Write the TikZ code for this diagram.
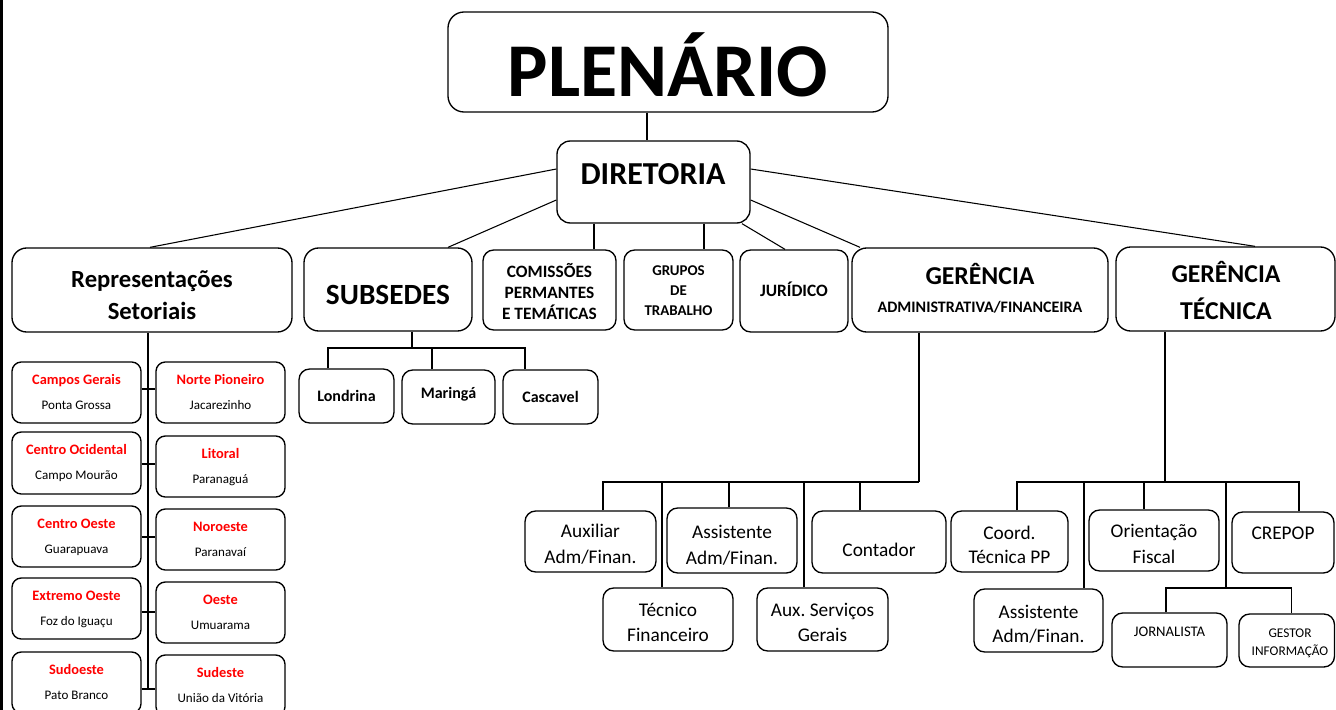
\documentclass[tikz,border=0pt]{standalone}
\usepackage{fontspec}
\setmainfont{Carlito}
\usetikzlibrary{fit,calc}
\frenchspacing
\tikzset{
 box/.style={draw, line width=1pt, rounded corners=8pt, inner sep=0pt},
 bigbox/.style={box, rounded corners=11pt},
 conn/.style={line width=0.8pt},
 t/.style={anchor=base, inner sep=0pt, align=center},
 hx/.style={xshift={(#1)*0.75pt}},
 vy/.style={yshift={-(#1)*0.75pt}},
}
\newcommand\RepBox[7]{%
 \node[box, rounded corners=7pt, fit={(#2,#3) (#4,#5)}] (#1) {};
 \node[t, text=red, font=\fontsize{10.8}{13}\selectfont\bfseries] (#1-r) at ({(#2+#4)/2},{#3+22.5}) {#6};
 \node[t, font=\fontsize{9.8}{12}\selectfont] (#1-b) at ({(#2+#4)/2},{#3+47.5}) {#7};}
\begin{document}
\begin{tikzpicture}[x=0.75pt,y=-0.75pt]
\useasboundingbox (0,0) rectangle (1336,710);
\draw[line width=2.25pt] (1.5,0) -- (1.5,710);
% top
\node[bigbox, rounded corners=12pt, fit={(448,12) (888,112)}] (plen) {};
\node[t,font=\fontsize{57}{60}\selectfont\bfseries] (plen-t) at (668,97) {PLENÁRIO};
\node[box, rounded corners=10pt, fit={(557,141) (750,223)}] (dir) {};
\node[t,font=\fontsize{24}{28}\selectfont\bfseries] (dir-t) at (653,184) {DIRETORIA};
% row 2
\node[bigbox, fit={(12,248) (292,332)}] (rep) {};
\node[t,font=\fontsize{18.5}{24}\selectfont\bfseries] (rep-t) at (152,319) {Representações\\Setoriais};
\node[bigbox, fit={(304,248) (472,331)}] (sub) {};
\node[t,font=\fontsize{22}{26}\selectfont\bfseries] (sub-t) at (388,304) {SUBSEDES};
\node[box, fit={(483,250) (616,330)}] (com) {};
\node[t,font=\fontsize{13}{15.75}\selectfont\bfseries] (com-t) at (549.5,319) {COMISSÕES\\PERMANTES\\E TEMÁTICAS};
\node[box, fit={(624,250) (733,330)}] (gru) {};
\node[t,font=\fontsize{11.2}{15}\selectfont\bfseries] (gru-t) at (678.5,315) {GRUPOS\\DE\\TRABALHO};
\node[box, fit={(740,250) (848,332)}] (jur) {};
\node[t,font=\fontsize{13}{16}\selectfont\bfseries] (jur-t) at (794,296) {JURÍDICO};
\node[bigbox, fit={(852,248) (1108,332)}] (ga) {};
\node[t,font=\fontsize{19.3}{23}\selectfont\bfseries] (ga-t1) at (980,284) {GERÊNCIA};
\node[t,font=\fontsize{12}{14}\selectfont\bfseries] (ga-t2) at (980,312) {ADMINISTRATIVA/FINANCEIRA};
\node[bigbox, fit={(1116,247) (1335,331)}] (gt) {};
\node[t,font=\fontsize{19.3}{27.75}\selectfont\bfseries] (gt-t) at (1226,319) {GERÊNCIA\\TÉCNICA};
% top connectors
\draw[conn] ([hx=-21]plen.south) -- ([hx=-6.5]dir.north);
\draw[conn] ([vy=-13]dir.west) -- ([hx=-2]rep.north);
\draw[conn] ([vy=18]dir.west) -- ([hx=60]sub.north);
\draw[conn] ([hx=-59.5]dir.south) -- ([hx=44.5]com.north);
\draw[conn] ([hx=50.5]dir.south) -- ([hx=25.5]gru.north);
\draw[conn] ([hx=88.5]dir.south) -- ([hx=-9]jur.north);
\draw[conn] ([vy=18]dir.east) -- ([hx=-120]ga.north);
\draw[conn] ([vy=-13]dir.east) -- ([hx=29.5]gt.north);
% representacoes
\RepBox{cg}{12}{362}{141}{423}{Campos Gerais}{Ponta Grossa}
\RepBox{np}{156}{362}{285}{423}{Norte Pioneiro}{Jacarezinho}
\RepBox{co}{12}{432}{141}{494}{Centro Ocidental}{Campo Mourão}
\RepBox{lit}{156}{436}{285}{497}{Litoral}{Paranaguá}
\RepBox{coe}{12}{506}{141}{567}{Centro Oeste}{Guarapuava}
\RepBox{nor}{156}{509}{285}{570}{Noroeste}{Paranavaí}
\RepBox{eo}{12}{578}{141}{639}{Extremo Oeste}{Foz do Iguaçu}
\RepBox{oes}{156}{582}{285}{643}{Oeste}{Umuarama}
\RepBox{sud}{12}{652}{141}{713}{Sudoeste}{Pato Branco}
\RepBox{sde}{156}{655}{285}{716}{Sudeste}{União da Vitória}
\coordinate (rtrunk) at (148,689);
\draw[conn] ([hx=-4]rep.south) -- (rtrunk);
\draw[conn] ([vy=-3.5]cg.east) -- ([vy=-3.5]np.west);
\draw[conn] ([vy=1]co.east) -- ([vy=-2.5]lit.west);
\draw[conn] ([vy=0.5]coe.east) -- ([vy=-2.5]nor.west);
\draw[conn] ([vy=3.5]eo.east) -- ([vy=-0.5]oes.west);
\draw[conn] ([vy=6.5]sud.east) -- ([vy=3.5]sde.west);
% subsedes
\node[box, fit={(299,369) (394,423)}] (lon) {};
\node[t,font=\fontsize{12}{14}\selectfont\bfseries] (lon-t) at (346.5,401) {Londrina};
\node[box, fit={(402,370) (495,424)}] (mar) {};
\node[t,font=\fontsize{12}{14}\selectfont\bfseries] (mar-t) at (448.5,398) {Maringá};
\node[box, fit={(503,370) (598,424)}] (cas) {};
\node[t,font=\fontsize{12}{14}\selectfont\bfseries] (cas-t) at (550.5,402) {Cascavel};
\coordinate (sbar) at (412,348);
\draw[conn] ([hx=24]sub.south) -- (sbar);
\draw[conn] ([hx=-18.5]lon.north) |- (sbar);
\draw[conn] ([hx=-16.5]mar.north) |- (sbar);
\draw[conn] ([hx=-25.5]cas.north) |- (sbar);
% gerencia adm
\node[box, fit={(525,511) (656,572)}] (aux) {};
\node[t,font=\fontsize{14.5}{19.5}\selectfont] (aux-t) at (590.5,563) {Auxiliar\\Adm/Finan.};
\node[box, fit={(667,508) (797,573)}] (ass) {};
\node[t,font=\fontsize{14.5}{19.5}\selectfont] (ass-t) at (732,564) {Assistente\\Adm/Finan.};
\node[box, fit={(812,511) (946,573)}] (con) {};
\node[t,font=\fontsize{14.5}{19.5}\selectfont] (con-t) at (879,556) {Contador};
\node[box, fit={(603,588) (733,651)}] (tec) {};
\node[t,font=\fontsize{14.5}{18.75}\selectfont] (tec-t) at (668,641) {Técnico\\Financeiro};
\node[box, fit={(757,588) (888,651)}] (asg) {};
\node[t,font=\fontsize{14.5}{18.75}\selectfont] (asg-t) at (822.5,641) {Aux. Serviços\\Gerais};
\coordinate (gabar) at (919,482);
\draw[conn] ([hx=-61]ga.south) -- (gabar);
\draw[conn] ([hx=12.5]aux.north) |- (gabar);
\draw[conn] ([hx=-6]tec.north) |- (gabar);
\draw[conn] ([hx=-3]ass.north) |- (gabar);
\draw[conn] ([hx=-18.5]asg.north) |- (gabar);
\draw[conn] ([hx=-19]con.north) |- (gabar);
% gerencia tecnica
\node[box, fit={(951,511) (1068,572)}] (coo) {};
\node[t,font=\fontsize{14.5}{18}\selectfont] (coo-t) at (1009.5,563) {Coord.\\Técnica PP};
\node[box, fit={(1089,510) (1219,571)}] (ori) {};
\node[t,font=\fontsize{14.5}{19.5}\selectfont] (ori-t) at (1154,563) {Orientação\\Fiscal};
\node[box, fit={(1232,512) (1334,573)}] (cre) {};
\node[t,font=\fontsize{14.5}{18}\selectfont] (cre-t) at (1283,539) {CREPOP};
\node[box, fit={(974,589) (1103,652)}] (gas) {};
\node[t,font=\fontsize{14.5}{18}\selectfont] (gas-t) at (1038.5,642) {Assistente\\Adm/Finan.};
\node[box, fit={(1112,613) (1227,667)}] (jor) {};
\node[t,font=\fontsize{11}{13}\selectfont] (jor-t) at (1169.5,636) {JORNALISTA};
\node[box, fit={(1239,614) (1334.5,667)}] (ges) {};
\node[t,font=\fontsize{10}{13.5}\selectfont] (ges-t) at (1290,655) {GESTOR\\INFORMAÇÃO};
\coordinate (gtbar) at (1165,482);
\coordinate (gtsub) at (1226,588);
\draw[conn] ([hx=-60.5]gt.south) -- (gtbar);
\draw[conn] ([hx=7.5]coo.north) |- (gtbar);
\draw[conn] ([hx=45.5]gas.north) |- (gtbar);
\draw[conn] ([hx=-10]ori.north) |- (gtbar);
\draw[conn] ([hx=16]cre.north) |- (gtbar);
\draw[conn] (gtsub) -- (gtsub |- gtbar);
\draw[conn] ([hx=-3.5]jor.north) |- (gtsub);
\draw[conn] ([hx=4.5]ges.north) |- (gtsub);
\end{tikzpicture}
\end{document}
